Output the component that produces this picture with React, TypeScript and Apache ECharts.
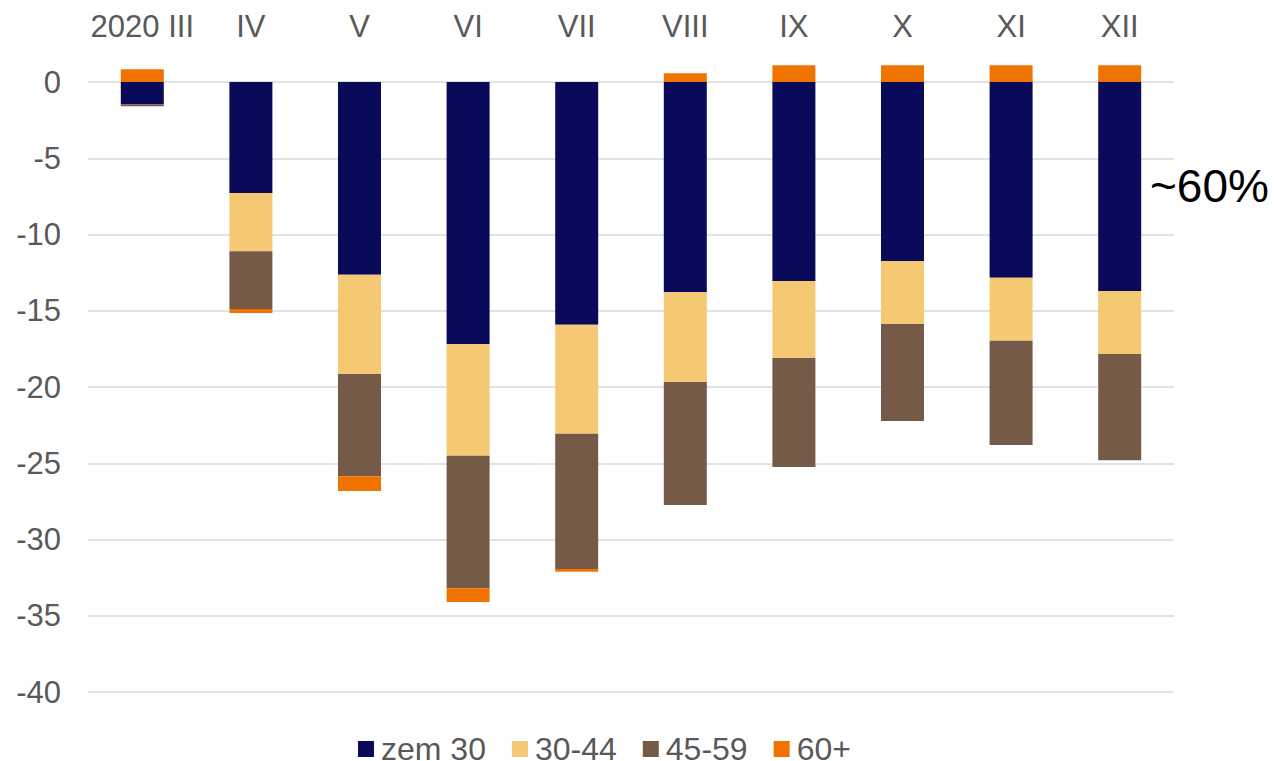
import React, { useEffect, useRef } from "react";
import * as echarts from "echarts";

const categories = ["2020 III", "IV", "V", "VI", "VII", "VIII", "IX", "X", "XI", "XII"];
const under30 = [-1.46, -7.28, -12.64, -17.18, -15.91, -13.79, -13.05, -11.74, -12.83, -13.7];
const age30to44 = [0, -3.82, -6.51, -7.32, -7.15, -5.88, -5.05, -4.13, -4.13, -4.14];
const age45to59 = [-0.13, -3.79, -6.71, -8.7, -8.87, -8.07, -7.15, -6.36, -6.84, -6.96];
const age60plus = [0.83, -0.26, -0.96, -0.9, -0.18, 0.57, 1.1, 1.1, 1.1, 1.1];
const seriesNames = ["zem 30", "30-44", "45-59", "60+"];
const seriesColors = ["#0A0A5A", "#F5C973", "#765A48", "#F07300"];
const annotation = "~60%";

const FONT = "'Liberation Sans', Arial, sans-serif";
const TEXT = "#595959";

export default function App() {
  const ref = useRef<HTMLDivElement>(null);
  useEffect(() => {
    if (!ref.current) return;
    const chart = echarts.init(ref.current, null, { renderer: "svg" });
    const data = [under30, age30to44, age45to59, age60plus];
    chart.setOption({
      animation: false,
      textStyle: { fontFamily: FONT },
      grid: { left: 88, right: 100, top: 82, bottom: 69, containLabel: false },
      legend: {
        left: 358,
        top: 733,
        itemWidth: 16,
        itemHeight: 16,
        itemGap: 26,
        icon: "rect",
        padding: 0,
        textStyle: {
          fontSize: 32,
          color: TEXT,
          fontFamily: FONT,
          lineHeight: 30,
          padding: [0, 0, 0, 2],
        },
        data: seriesNames,
      },
      xAxis: {
        type: "category",
        position: "top",
        data: categories,
        axisLine: { show: false },
        axisTick: { show: false },
        axisLabel: { interval: 0, fontSize: 31, color: TEXT, margin: 40, fontFamily: FONT },
      },
      yAxis: {
        type: "value",
        min: -40,
        max: 0,
        interval: 5,
        axisLine: { show: false },
        axisTick: { show: false },
        axisLabel: { fontSize: 31, color: TEXT, margin: 27, fontFamily: FONT },
        splitLine: { lineStyle: { color: "#D9D9D9", width: 1.5 } },
      },
      series: seriesNames.map((name, i) => ({
        name,
        type: "bar",
        stack: "total",
        barWidth: 43,
        clip: false,
        itemStyle: { color: seriesColors[i] },
        data: data[i],
      })),
      graphic: [
        {
          type: "text",
          left: 1150,
          top: 163,
          style: { text: annotation, fontSize: 46, fill: "#000", fontFamily: FONT },
        },
      ],
    });
    return () => chart.dispose();
  }, []);
  return (
    <div
      ref={ref}
      style={{ position: "fixed", left: 0, top: 0, width: 1274, height: 761, background: "#fff" }}
    />
  );
}
